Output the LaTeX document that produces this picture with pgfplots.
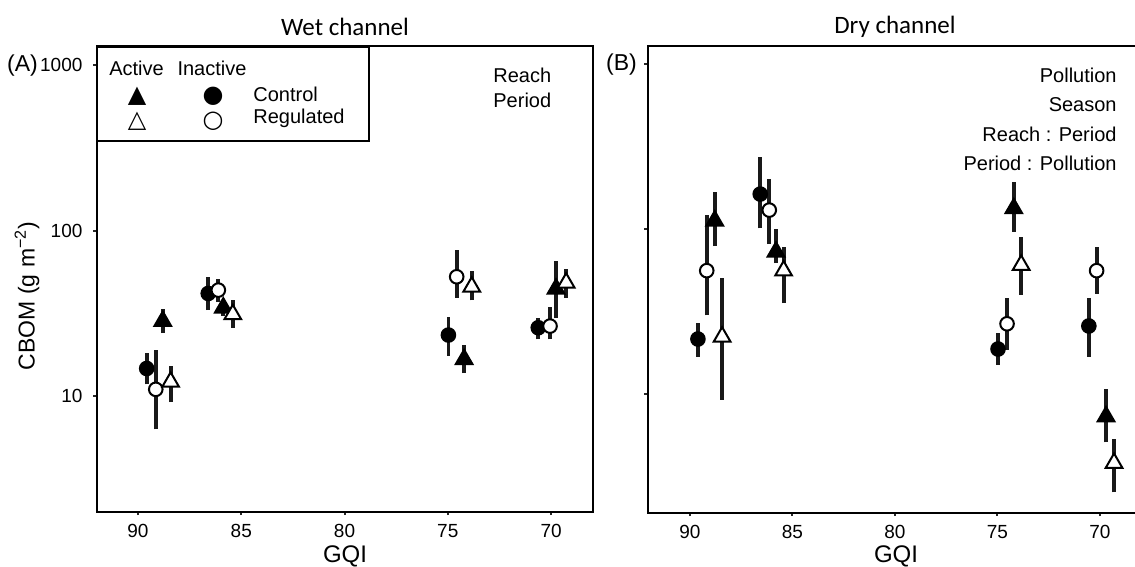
\documentclass[border=0pt]{standalone}
\usepackage{fontspec}
\setmainfont{Liberation Sans}
\newfontfamily\calibri{Carlito}
\newfontfamily\dejavu{DejaVu Sans}
\usepackage{pgfplots}
\pgfplotsset{compat=1.18}

\pgfplotsset{
  fcs/.style={only marks, mark=*, mark size=3.4pt, mark options={fill=black, draw=black, line width=1pt}},
  ocs/.style={only marks, mark=*, mark size=3.4pt, mark options={fill=white, draw=black, line width=1pt}},
  fts/.style={only marks, mark=triangle*, mark size=4.8pt, mark options={fill=black, draw=black, line width=1pt}},
  ots/.style={only marks, mark=triangle*, mark size=4.8pt, mark options={fill=white, draw=black, line width=1pt}},
}
\newcommand\errbar[3]{\addplot[no marks, line width=1.9pt, color=black!90, forget plot] coordinates {(#1,#2) (#1,#3)};}

\begin{document}
\begin{tikzpicture}
\useasboundingbox (0,0) rectangle (567.5pt,-283.5pt);

% ---------------- Wet channel ----------------
\begin{axis}[
  scale only axis,
  ymode=log,
  x dir=reverse,
  at={(48.35pt,-256pt)}, anchor=south west,
  width=248.15pt, height=233pt,
  xmin=67.97, xmax=92, ymin=2, ymax=1300,
  xtick={70,75,80,85,90},
  xticklabels={70,75,80,85,90},
  ytick={10,100,1000},
  yticklabels={10,100,1000},
  xtick pos=bottom, ytick pos=left,
  yminorticks=false,
  tick align=outside,
  major tick length=1.6pt,
  every tick/.style={line width=1pt, color=black!85},
  axis line style={line width=1pt},
  tick label style={font=\fontsize{9.5}{11}\selectfont},
  yticklabel style={xshift=-2pt},
  xticklabel style={yshift=-1pt},
]
% Control, inactive (filled circle)
\errbar{89.58}{11.8}{18.3}\errbar{86.60}{33.1}{52.6}\errbar{74.97}{17.5}{30.2}\errbar{70.62}{22.0}{29.8}
\addplot[fcs] coordinates {(89.58,14.7) (86.60,41.7) (74.97,23.4) (70.62,25.9)};
% Regulated, inactive (open circle)
\errbar{89.14}{6.3}{19.0}\errbar{86.11}{37.0}{50.7}\errbar{74.57}{39.4}{76.1}\errbar{70.05}{22.0}{34.7}
\addplot[ocs] coordinates {(89.14,11.0) (86.11,43.7) (74.57,52.6) (70.05,26.5)};
% Control, active (filled triangle)
\errbar{88.80}{24.0}{33.4}\errbar{85.87}{30.5}{38.3}\errbar{74.21}{13.8}{20.4}\errbar{69.76}{29.8}{65.3}
\addplot[fts] coordinates {(88.80,28.4) (85.87,34.2) (74.21,16.7) (69.76,44.5)};
% Regulated, active (open triangle)
\errbar{88.42}{9.2}{15.2}\errbar{85.41}{25.9}{38.3}\errbar{73.84}{37.9}{56.9}\errbar{69.27}{39.4}{58.2}
\addplot[ots] coordinates {(88.42,12.2) (85.41,31.2) (73.84,45.8) (69.27,48.4)};
\end{axis}

% ---------------- Dry channel ----------------
\begin{axis}[
  scale only axis,
  ymode=log,
  x dir=reverse,
  at={(323.75pt,-256.5pt)}, anchor=south west,
  width=246.7pt, height=233.5pt,
  xmin=68, xmax=92.07, ymin=1.89, ymax=1291,
  xtick={70,75,80,85,90},
  xticklabels={70,75,80,85,90},
  ytick={10,100,1000},
  yticklabels={,,},
  xtick pos=bottom, ytick pos=left,
  yminorticks=false,
  tick align=outside,
  major tick length=1.6pt,
  every tick/.style={line width=1pt, color=black!85},
  axis line style={line width=1pt},
  tick label style={font=\fontsize{9.5}{11}\selectfont},
  xticklabel style={yshift=-1pt},
]
\errbar{89.61}{16.8}{26.8}\errbar{86.57}{101}{274}\errbar{74.97}{15.0}{23.3}\errbar{70.54}{16.8}{38.0}
\addplot[fcs] coordinates {(89.61,21.5) (86.57,163) (74.97,18.7) (70.54,25.8)};
\errbar{89.18}{29.9}{121.6}\errbar{86.13}{81.1}{202.6}\errbar{74.53}{18.5}{38.0}\errbar{70.16}{40.4}{77.4}
\addplot[ocs] coordinates {(89.18,55.9) (86.13,130.3) (74.53,26.6) (70.16,55.9)};
\errbar{88.79}{78.9}{166.8}\errbar{85.80}{62.0}{100}\errbar{74.20}{96.3}{191.9}\errbar{69.70}{5.07}{10.7}
\addplot[fts] coordinates {(88.79,112.3) (85.80,72.8) (74.20,133.4) (69.70,7.28)};
\errbar{88.43}{9.2}{50.7}\errbar{85.43}{35.5}{78.2}\errbar{73.84}{39.8}{89.1}\errbar{69.31}{2.52}{5.31}
\addplot[ots] coordinates {(88.43,22.2) (85.43,55.9) (73.84,60.5) (69.31,3.80)};
\end{axis}

% ---------------- text and legend (pixel units) ----------------
\begin{scope}[x=0.5pt, y=-0.5pt]
\node[font=\calibri\fontsize{12.5}{14}\selectfont] at (345,27) {Wet channel};
\node[font=\calibri\fontsize{12.5}{14}\selectfont] at (895,27) {Dry channel};
\node[font=\fontsize{11.5}{13}\selectfont, inner sep=0pt] at (22.5,66) {(A)};
\node[font=\fontsize{11.5}{13}\selectfont, inner sep=0pt] at (621.5,65) {(B)};
\node[font=\fontsize{11.5}{13}\selectfont, rotate=90] at (27,296) {CBOM (g m\textsuperscript{−2})};
\node[font=\fontsize{12}{14}\selectfont] at (345,556) {GQI};
\node[font=\fontsize{12}{14}\selectfont] at (896,556) {GQI};
% legend box
\draw[line width=1pt] (96.7,46.7) rectangle (369,141);
\node[font=\fontsize{10}{12}\selectfont, anchor=base, inner sep=0pt] at (136.5,76) {Active};
\node[font=\fontsize{10}{12}\selectfont, anchor=base, inner sep=0pt] at (212,76) {Inactive};
\node[font=\dejavu\fontsize{12}{12}\selectfont, inner sep=0pt] at (137,96) {▲};
\node[font=\dejavu\fontsize{12}{12}\selectfont, inner sep=0pt] at (137,121) {△};
\node[font=\dejavu\fontsize{12}{12}\selectfont, inner sep=0pt] at (213,96) {●};
\node[font=\dejavu\fontsize{12}{12}\selectfont, inner sep=0pt] at (213,121) {○};
\node[font=\fontsize{10}{12}\selectfont, anchor=base west, inner sep=0pt] at (253,101.5) {Control};
\node[font=\fontsize{10}{12}\selectfont, anchor=base west, inner sep=0pt] at (253,123.4) {Regulated};
% model terms
\node[font=\fontsize{10}{12}\selectfont, anchor=base west, inner sep=0pt] at (493,83) {Reach};
\node[font=\fontsize{10}{12}\selectfont, anchor=base west, inner sep=0pt] at (493,108) {Period};
\node[font=\fontsize{10}{12}\selectfont, anchor=base east, inner sep=0pt] at (1117,83) {Pollution};
\node[font=\fontsize{10}{12}\selectfont, anchor=base east, inner sep=0pt] at (1117,111.7) {Season};
\node[font=\fontsize{10}{12}\selectfont, anchor=base east, inner sep=0pt] at (1117,141.7) {Reach : Period};
\node[font=\fontsize{10}{12}\selectfont, anchor=base east, inner sep=0pt] at (1117,170) {Period : Pollution};
\end{scope}
\end{tikzpicture}
\end{document}
